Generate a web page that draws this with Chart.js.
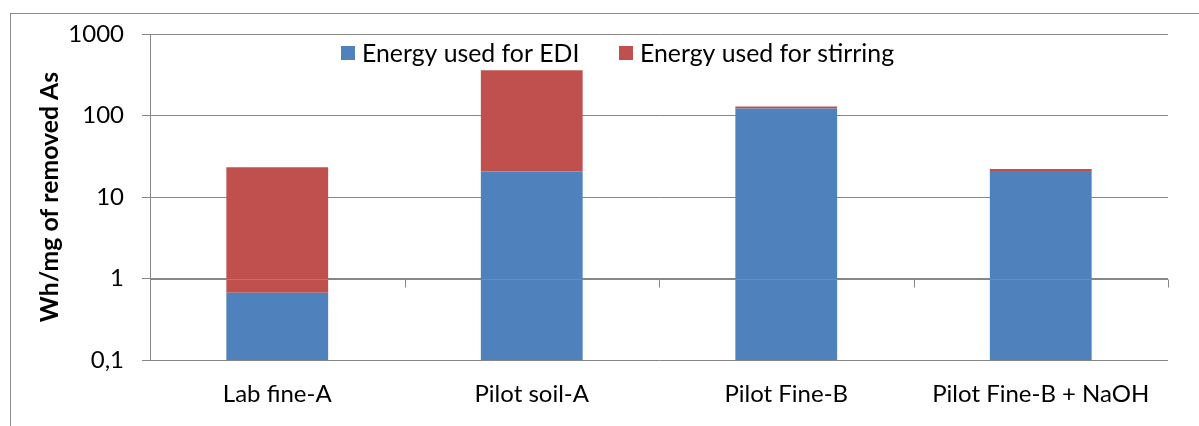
<!DOCTYPE html>
<html>
<head>
<meta charset="utf-8">
<script src="https://cdn.jsdelivr.net/npm/chart.js@4.4.1/dist/chart.umd.min.js"></script>
<style>
  html, body { margin: 0; padding: 0; background: #fff; }
  #wrap { width: 1199px; height: 426px; }
</style>
</head>
<body>
<div id="wrap"><canvas id="energyChart"></canvas></div>
<script>
// data
const categories = ["Lab fine-A", "Pilot soil-A", "Pilot Fine-B", "Pilot Fine-B + NaOH"];
const ediEnergy = [0.67, 20.6, 121.5, 20.9];
const stirringEnergy = [22.5, 339, 7, 1.2];
const yTicks = [0.1, 1, 10, 100, 1000];

const gridGray = "#868686";
const fontFamily = "Lato, 'Liberation Sans', Arial, sans-serif";

// frame round the whole chart (cut off right and bottom in the original)
const frame = {
    id: "frame",
    beforeDraw(chart) {
        const ctx = chart.ctx;
        ctx.save();
        ctx.strokeStyle = "#8c8c8c";
        ctx.lineWidth = 1;
        ctx.strokeRect(10.5, 13.5, 1400, 600);
        ctx.restore();
    }
};

// horizontal category axis crosses the log axis at 1
const crossAxis = {
    id: "crossAxis",
    afterDatasetsDraw(chart) {
        const { ctx, scales: { x, y } } = chart;
        const yy = Math.round(y.getPixelForValue(1)) + 0.5;
        ctx.save();
        ctx.strokeStyle = gridGray;
        ctx.lineWidth = 1;
        ctx.beginPath();
        ctx.moveTo(x.left, yy);
        ctx.lineTo(x.right, yy);
        const n = categories.length;
        for (let i = 0; i <= n; i++) {
            const xx = Math.round(x.left + i * x.width / n) + 0.5;
            ctx.moveTo(xx, yy);
            ctx.lineTo(xx, yy + 8);
        }
        ctx.stroke();
        ctx.restore();
    }
};

// legend sits inside the plot area at the top
const innerLegend = {
    id: "innerLegend",
    afterDraw(chart) {
        const ctx = chart.ctx;
        const startX = [341, 619];
        const cy = 53;
        ctx.save();
        ctx.font = "24.8px " + fontFamily;
        ctx.textBaseline = "middle";
        chart.data.datasets.forEach((ds, i) => {
            ctx.fillStyle = ds.backgroundColor;
            ctx.fillRect(startX[i], cy - 7, 14, 14);
            ctx.fillStyle = "#000";
            ctx.fillText(ds.label, startX[i] + 21, cy + 1);
        });
        ctx.restore();
    }
};

new Chart(document.getElementById("energyChart"), {
    type: "bar",
    data: {
        labels: categories,
        datasets: [
            { label: "Energy used for EDI", data: ediEnergy, backgroundColor: "#4F81BD" },
            { label: "Energy used for stirring", data: stirringEnergy, backgroundColor: "#C0504D" }
        ]
    },
    options: {
        responsive: true,
        maintainAspectRatio: false,
        animation: false,
        layout: { padding: { top: 34, right: 31, left: 0, bottom: 0 } },
        plugins: { legend: { display: false }, tooltip: { enabled: false } },
        datasets: { bar: { barPercentage: 0.4, categoryPercentage: 1.0 } },
        scales: {
            x: {
                stacked: true,
                grid: { display: false, drawTicks: false },
                border: { display: false },
                ticks: { color: "#000", font: { size: 24, family: fontFamily }, padding: 20, maxRotation: 0 },
                afterFit(scale) { scale.height = 66; }
            },
            y: {
                type: "logarithmic",
                stacked: true,
                min: 0.1,
                max: 1000,
                afterBuildTicks(scale) { scale.ticks = yTicks.map(v => ({ value: v })); },
                afterFit(scale) { scale.width = 150; },
                grid: { color: gridGray, tickLength: 8, tickColor: gridGray },
                border: { display: true, color: gridGray },
                ticks: {
                    color: "#000",
                    font: { size: 24, family: fontFamily },
                    padding: 18,
                    callback: v => String(v).replace(".", ",")
                },
                title: {
                    display: true,
                    text: "Wh/mg of removed As",
                    color: "#000",
                    font: { size: 24.8, weight: "bold", family: fontFamily },
                    padding: { top: 35, bottom: 0 }
                }
            }
        }
    },
    plugins: [frame, crossAxis, innerLegend]
});
</script>
</body>
</html>
